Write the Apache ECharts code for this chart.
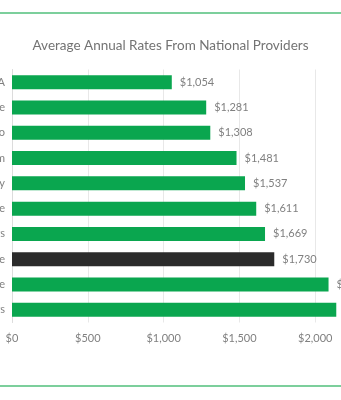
<!DOCTYPE html>
<html>
<head>
<meta charset="utf-8">
<script src="https://cdn.jsdelivr.net/npm/echarts@6/dist/echarts.min.js"></script>
<style>
html,body{margin:0;padding:0;background:#fff;}
#chart{width:341px;height:400px;}
</style>
</head>
<body>
<div id="chart"></div>
<script>
const categories = ["USAA", "Erie", "Geico", "State Farm", "American Family", "Progressive", "Travelers", "National Average", "Allstate", "Farmers"];
const values = [1054, 1281, 1308, 1481, 1537, 1611, 1669, 1730, 2088, 2139];
const highlight = "National Average";
const titleText = "Average Annual Rates From National Providers";

const fmt = v => "$" + v.toLocaleString("en-US");
const chart = echarts.init(document.getElementById("chart"), null, {renderer: "canvas"});
chart.setOption({
  animation: false,
  backgroundColor: "#ffffff",
  textStyle: {fontFamily: "Lato"},
  title: {
    text: titleText, left: "center", top: 34,
    textStyle: {fontFamily: "Lato", fontSize: 13.5, fontWeight: "normal", color: "#737373"}
  },
  graphic: [
    {type: "rect", left: 0, top: 12, shape: {width: 341, height: 2}, style: {fill: "#7ccf9c"}},
    {type: "rect", left: 0, top: 385, shape: {width: 341, height: 2}, style: {fill: "#7ccf9c"}}
  ],
  grid: {left: 12, top: 69.5, width: 379, height: 253, containLabel: false, outerBoundsMode: "none"},
  xAxis: {
    type: "value", min: 0, max: 2500, interval: 500,
    axisLine: {show: false}, axisTick: {show: false},
    splitLine: {lineStyle: {color: "#e8e8e8", width: 1}},
    axisLabel: {formatter: v => fmt(v), color: "#808080", fontSize: 11, margin: 10, fontFamily: "Lato"}
  },
  yAxis: {
    type: "category", data: categories, inverse: true,
    axisLine: {show: true, lineStyle: {color: "#dcdcdc"}},
    axisTick: {show: false},
    axisLabel: {color: "#808080", fontSize: 11, margin: 7, fontFamily: "Lato"}
  },
  series: [{
    type: "bar", barWidth: 14,
    data: values.map((v, i) => ({
      value: v,
      itemStyle: {color: categories[i] === highlight ? "#2b2b2b" : "#0aa64f"}
    })),
    label: {show: true, position: "right", distance: 8, formatter: p => fmt(p.value), color: "#808080", fontSize: 11, fontFamily: "Lato"}
  }]
});
</script>
</body>
</html>
